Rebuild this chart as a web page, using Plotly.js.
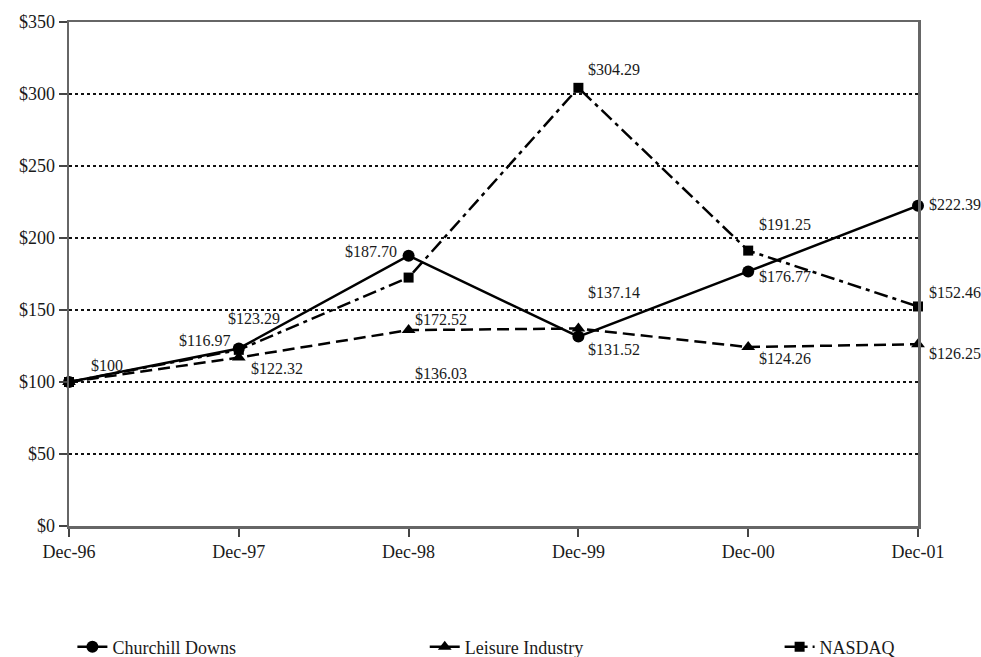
<!DOCTYPE html>
<html>
<head>
<meta charset="utf-8">
<script src="https://cdn.plot.ly/plotly-3.0.1.min.js"></script>
<style>html,body{margin:0;padding:0;background:#fff}#chart{width:981px;height:657px}</style>
</head>
<body>
<div id="chart"></div>
<script>
var categories = ["Dec-96", "Dec-97", "Dec-98", "Dec-99", "Dec-00", "Dec-01"];
var churchill = [100, 123.29, 187.70, 131.52, 176.77, 222.39];
var leisure = [100, 116.97, 136.03, 137.14, 124.26, 126.25];
var nasdaq = [100, 122.32, 172.52, 304.29, 191.25, 152.46];
var seriesNames = ["Churchill Downs", "Leisure Industry", "NASDAQ"];
var yTickVals = [0, 50, 100, 150, 200, 250, 300, 350];

// label offsets (px) for each series at each category; null = no label
var labelShift = {
  "Churchill Downs": [[38,-17],[15,-30],[-38,-4],[36,13],[37,5],[37,-1]],
  "Leisure Industry": [null,[-34,-17],[32,43],[36,-36],[37,11],[37,9]],
  "NASDAQ": [null,[38,19],[32,42],[36,-18],[37,-26],[37,-14]]
};

function fmt(v){ return v === 100 ? "$100" : "$" + v.toFixed(2); }

var FAM = "Liberation Serif, Times New Roman, serif";
var font = {family: FAM, size: 17, color: "#1a1a1a"};
var seriesData = [churchill, leisure, nasdaq];
var styles = [
  {dash: "solid", symbol: "circle", size: 12},
  {dash: "12px,6px", symbol: "triangle-up", size: 12},
  {dash: "14px,5px,4px,5px", symbol: "square", size: 10}
];
var legendIds = ["legend", "legend2", "legend3"];
var legendX = [0.004, 0.419, 0.837];
var xs = categories.map(function(c, i){ return i; });

var traces = seriesData.map(function(vals, k){
  return {
    x: xs, y: vals, name: seriesNames[k], type: "scatter", mode: "lines+markers",
    line: {color: "#000", width: 2.5, dash: styles[k].dash},
    marker: {color: "#000", symbol: styles[k].symbol, size: styles[k].size},
    cliponaxis: false, legend: legendIds[k]
  };
});

var annotations = [];
seriesData.forEach(function(vals, k){
  var sh = labelShift[seriesNames[k]];
  vals.forEach(function(v, i){
    if (!sh[i]) return;
    annotations.push({
      x: xs[i], y: v, xref: "x", yref: "y", text: fmt(v), showarrow: false,
      xshift: sh[i][0], yshift: -sh[i][1],
      font: {family: FAM, size: 16, color: "#1a1a1a"}
    });
  });
});

var axisCommon = {
  zeroline: false, showline: true, mirror: true,
  linecolor: "#666", linewidth: 2.5, ticks: "outside", ticklen: 8, tickwidth: 2, tickcolor: "#444",
  tickfont: {family: FAM, size: 18, color: "#1a1a1a"}, fixedrange: true
};

var layout = {
  width: 981, height: 657,
  margin: {l: 69, r: 63, t: 22, b: 131, autoexpand: false},
  paper_bgcolor: "#fff", plot_bgcolor: "#fff",
  font: font,
  showlegend: true,
  xaxis: Object.assign({
    range: [0, 5], tickmode: "array", tickvals: xs, ticktext: categories, showgrid: false
  }, axisCommon),
  yaxis: Object.assign({
    range: [0, 350], tickmode: "array", tickvals: yTickVals,
    ticktext: yTickVals.map(function(v){ return "$" + v; }),
    showgrid: true, gridcolor: "#111", gridwidth: 2, griddash: "dot"
  }, axisCommon),
  annotations: annotations
};
legendIds.forEach(function(id, k){
  layout[id] = {orientation: "h", x: legendX[k], xanchor: "left", y: -0.24, yanchor: "middle",
    font: {family: FAM, size: 18, color: "#1a1a1a"}, bgcolor: "rgba(0,0,0,0)"};
});

Plotly.newPlot("chart", traces, layout, {staticPlot: true});
</script>
</body>
</html>
